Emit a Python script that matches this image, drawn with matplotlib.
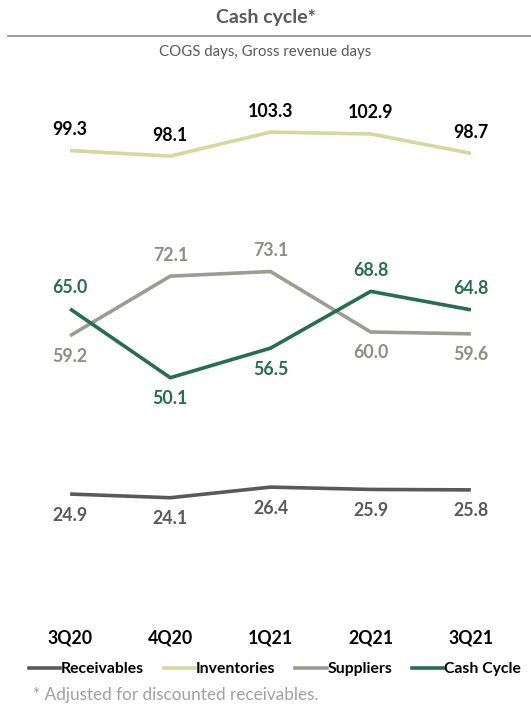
import matplotlib
matplotlib.use("Agg")
import matplotlib.pyplot as plt
from matplotlib.lines import Line2D

categories = ["3Q20", "4Q20", "1Q21", "2Q21", "3Q21"]
receivables = [24.9, 24.1, 26.4, 25.9, 25.8]
inventories = [99.3, 98.1, 103.3, 102.9, 98.7]
suppliers = [59.2, 72.1, 73.1, 60.0, 59.6]
cash_cycle = [65.0, 50.1, 56.5, 68.8, 64.8]

# label placement: +1 above, -1 below
rec_pos = [-1, -1, -1, -1, -1]
inv_pos = [1, 1, 1, 1, 1]
sup_pos = [-1, 1, 1, -1, -1]
cc_pos = [1, -1, -1, 1, 1]

FONT = ["Lato", "DejaVu Sans"]
plt.rcParams["font.family"] = FONT

fig = plt.figure(figsize=(5.31, 7.05), dpi=100)
ax = fig.add_axes([20/531, 96/705, 501/531, 554/705])
ax.set_xlim(-0.5, 4.5)
ax.set_ylim(0, 120)
ax.axis("off")

series = [
    ("Receivables", receivables, "#595959", "#595959", rec_pos),
    ("Inventories", inventories, "#D4D99A", "#000000", inv_pos),
    ("Suppliers", suppliers, "#9C9C90", "#8E8E84", sup_pos),
    ("Cash Cycle", cash_cycle, "#21714A", "#21714A", cc_pos),
]
x = list(range(len(categories)))
for name, vals, col, lcol, pos in series:
    ax.plot(x, vals, color=col, lw=2.6, solid_capstyle="butt")
    for xi, v, p in zip(x, vals, pos):
        ax.annotate(f"{v:.1f}", (xi, v), xytext=(0, 21 * p), textcoords="offset pixels",
                    ha="center", va="center", fontsize=12.8, fontweight="bold", color=lcol)

for xi, c in zip(x, categories):
    ax.text(xi, -6.2, c, ha="center", va="center",
            fontsize=12.8, fontweight="bold", color="#000000")

# Title
fig.text(0.5, 1 - 17/705, "Cash cycle*", ha="center", va="center", fontsize=14, fontweight="bold", color="#595959")
fig.add_artist(Line2D([8/531, 1.0], [1 - 36/705, 1 - 36/705], color="#8C8C8C", lw=1.2))
fig.text(0.5, 1 - 52/705, "COGS days, Gross revenue days", ha="center", va="center", fontsize=10.8, color="#595959")

handles = [Line2D([0], [0], color=s[2], lw=2.6) for s in series]
leg = fig.legend(handles, [s[0] for s in series], loc="center", bbox_to_anchor=(275/531, 1 - 669/705),
                 ncol=4, frameon=False, handlelength=2.0, handletextpad=0.05, columnspacing=1.25,
                 prop={"family": FONT, "weight": "bold", "size": 11.3})

fig.text(33/531, 1 - 695/705, "* Adjusted for discounted receivables.", ha="left", va="center",
         fontsize=12.3, color="#A0A0A0")

fig.savefig("out.png", dpi=100, facecolor="white")
